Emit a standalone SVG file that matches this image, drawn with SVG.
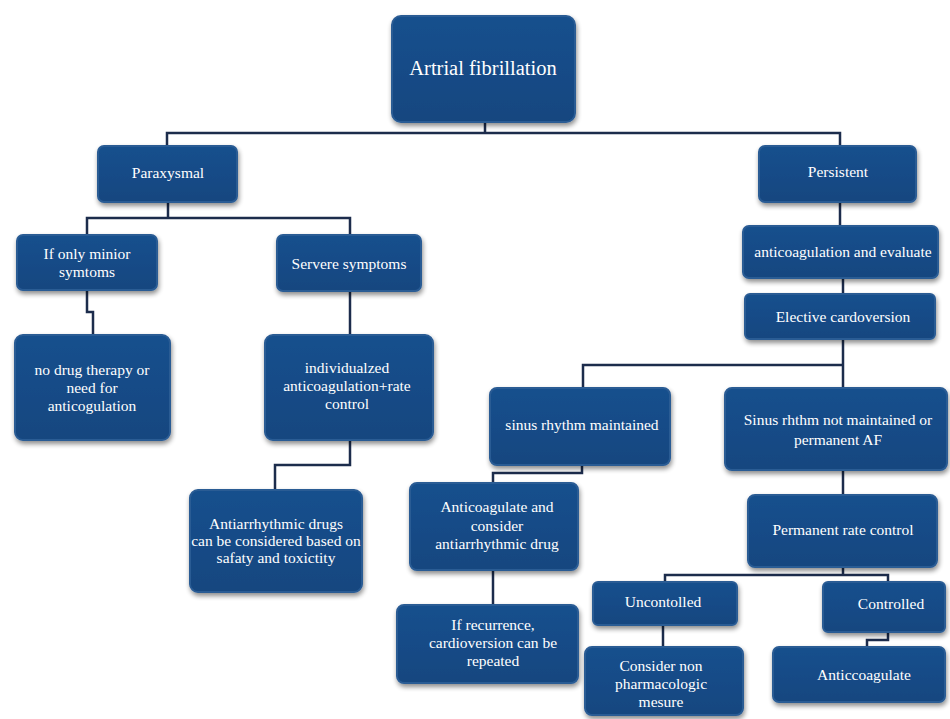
<svg xmlns="http://www.w3.org/2000/svg" width="950" height="719" viewBox="0 0 950 719">
<defs>
<filter id="sh" x="-10%" y="-10%" width="125%" height="130%">
<feGaussianBlur in="SourceAlpha" stdDeviation="2.5"/>
<feOffset dx="1" dy="3" result="b"/>
<feComponentTransfer><feFuncA type="linear" slope="0.45"/></feComponentTransfer>
<feMerge><feMergeNode/><feMergeNode in="SourceGraphic"/></feMerge>
</filter>
<linearGradient id="g" x1="0" y1="0" x2="0" y2="1">
<stop offset="0" stop-color="#17508d"/>
<stop offset="0.5" stop-color="#134b87"/>
<stop offset="1" stop-color="#12467f"/>
</linearGradient>
</defs>
<style>
.box{fill:url(#g);stroke:#2a5b94;stroke-width:2;filter:url(#sh)}
.t{font-family:"Liberation Serif","DejaVu Serif",serif;font-size:15.5px;fill:#ffffff;text-anchor:middle}
.big{font-size:20.5px}
.c{fill:none;stroke:#1c2c4c;stroke-width:2.5}
</style>
<rect width="950" height="719" fill="#ffffff"/>
<g id="connectors">
<path class="c" d="M485 122V133M167 146V133H840V146"/>
<path class="c" d="M168 202V218M87 235V218H350V235"/>
<path class="c" d="M87 290V312H93V335"/>
<path class="c" d="M350 291V335"/>
<path class="c" d="M350 440V465H275V490"/>
<path class="c" d="M840 202V226"/>
<path class="c" d="M843 278V294"/>
<path class="c" d="M843 339V388M843 365H583V388"/>
<path class="c" d="M582 465V473H493V483"/>
<path class="c" d="M493 570V605"/>
<path class="c" d="M843 470V495"/>
<path class="c" d="M843 567V575M665 582V575H888V582"/>
<path class="c" d="M663 625V647"/>
<path class="c" d="M888 632V640H867V647"/>
</g>
<g id="n-af"><rect class="box" x="392" y="16" width="183" height="106" rx="9"/><text class="t big" x="483" y="75">Artrial fibrillation</text></g>
<g id="n-parox"><rect class="box" x="98" y="146" width="139" height="56" rx="6"/><text class="t" x="168" y="178">Paraxysmal</text></g>
<g id="n-persist"><rect class="box" x="759" y="146" width="157" height="56" rx="6"/><text class="t" x="838" y="177">Persistent</text></g>
<g id="n-minor"><rect class="box" x="17" y="235" width="140" height="55" rx="6"/><text class="t" x="87" y="259">If only minior</text><text class="t" x="87" y="277">symtoms</text></g>
<g id="n-severe"><rect class="box" x="277" y="235" width="144" height="56" rx="6"/><text class="t" x="349" y="269">Servere symptoms</text></g>
<g id="n-nodrug"><rect class="box" x="15" y="335" width="155" height="105" rx="8"/><text class="t" x="92" y="375">no drug therapy or</text><text class="t" x="92" y="393">need for</text><text class="t" x="92" y="411">anticogulation</text></g>
<g id="n-indiv"><rect class="box" x="265" y="335" width="168" height="105" rx="8"/><text class="t" x="347" y="373">individualzed</text><text class="t" x="347" y="391">anticoagulation+rate</text><text class="t" x="347" y="409">control</text></g>
<g id="n-antiarr"><rect class="box" x="190" y="490" width="172" height="102" rx="8"/><text class="t" x="276" y="529">Antiarrhythmic drugs</text><text class="t" x="276" y="546">can be considered based on</text><text class="t" x="276" y="563">safaty and toxictity</text></g>
<g id="n-anticoag-eval"><rect class="box" x="743" y="226" width="195" height="52" rx="6"/><text class="t" x="843" y="257">anticoagulation and evaluate</text></g>
<g id="n-elective"><rect class="box" x="745" y="294" width="190" height="45" rx="5"/><text class="t" x="843" y="322">Elective cardoversion</text></g>
<g id="n-sinus"><rect class="box" x="490" y="388" width="180" height="77" rx="7"/><text class="t" x="582" y="430">sinus rhythm maintained</text></g>
<g id="n-notmaint"><rect class="box" x="725" y="388" width="222" height="82" rx="7"/><text class="t" x="838" y="425">Sinus rhthm not maintained or</text><text class="t" x="838" y="445">permanent AF</text></g>
<g id="n-consider-drug"><rect class="box" x="410" y="483" width="168" height="87" rx="7"/><text class="t" x="497" y="512">Anticoagulate and</text><text class="t" x="497" y="531">consider</text><text class="t" x="497" y="549">antiarrhythmic drug</text></g>
<g id="n-recur"><rect class="box" x="397" y="605" width="181" height="78" rx="7"/><text class="t" x="493" y="630">If recurrence,</text><text class="t" x="493" y="648">cardioversion can be</text><text class="t" x="493" y="666">repeated</text></g>
<g id="n-permrate"><rect class="box" x="748" y="495" width="189" height="72" rx="7"/><text class="t" x="843" y="535">Permanent rate control</text></g>
<g id="n-uncont"><rect class="box" x="593" y="582" width="144" height="43" rx="5"/><text class="t" x="663" y="607">Uncontolled</text></g>
<g id="n-cont"><rect class="box" x="823" y="582" width="122" height="50" rx="5"/><text class="t" x="891" y="609">Controlled</text></g>
<g id="n-nonpharm"><rect class="box" x="585" y="647" width="158" height="68" rx="7"/><text class="t" x="661" y="671">Consider non</text><text class="t" x="661" y="689">pharmacologic</text><text class="t" x="661" y="707">mesure</text></g>
<g id="n-anticc"><rect class="box" x="773" y="647" width="172" height="55" rx="6"/><text class="t" x="864" y="680">Anticcoagulate</text></g>
</svg>
